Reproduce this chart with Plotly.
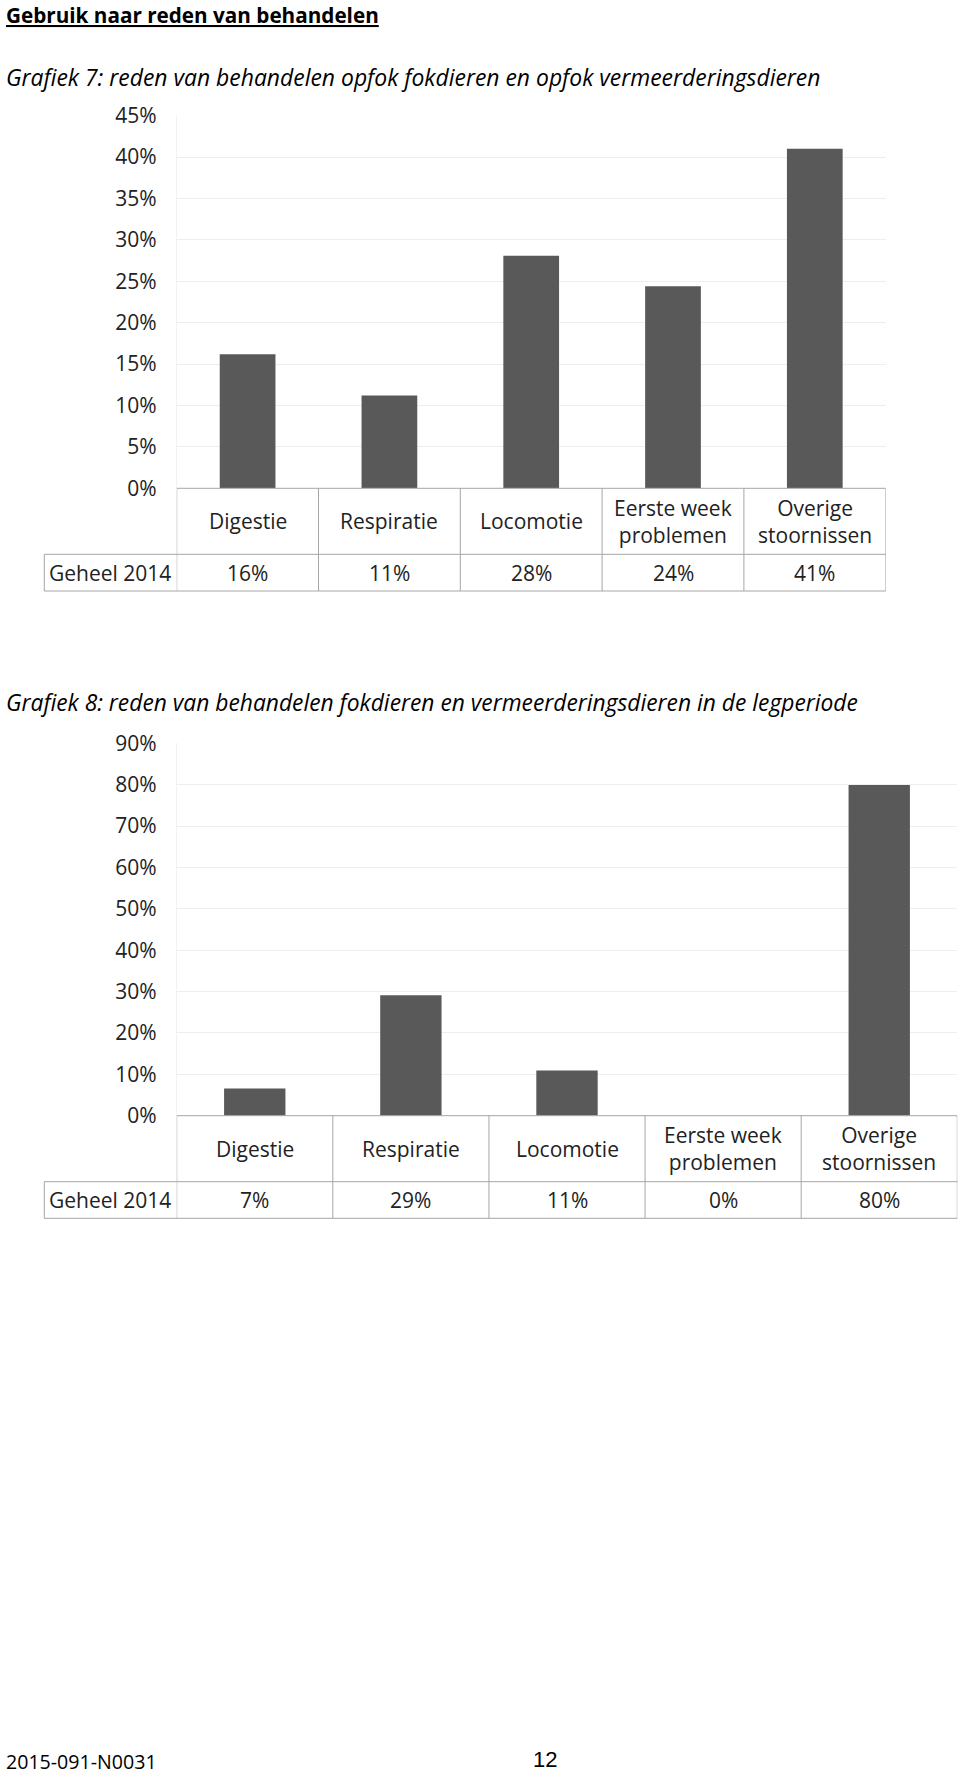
import plotly.graph_objects as go

# ---------------- data ----------------
categories = ["Digestie", "Respiratie", "Locomotie", "Eerste week<br>problemen", "Overige<br>stoornissen"]
values_7 = [0.162, 0.112, 0.281, 0.244, 0.410]
values_8 = [0.066, 0.291, 0.109, 0.0, 0.799]
row_label = "Geheel 2014"
ticks_7 = [0, 0.05, 0.10, 0.15, 0.20, 0.25, 0.30, 0.35, 0.40, 0.45]
ticks_8 = [0, 0.1, 0.2, 0.3, 0.4, 0.5, 0.6, 0.7, 0.8, 0.9]
heading = "Gebruik naar reden van behandelen"
title_7 = "Grafiek 7: reden van behandelen opfok fokdieren en opfok vermeerderingsdieren"
title_8 = "Grafiek 8: reden van behandelen fokdieren en vermeerderingsdieren in de legperiode"
footer_left = "2015-091-N0031"
footer_page = "12"

# ---------------- layout helpers ----------------
W, H = 960, 1774
FONT = "Open Sans"
TEXT = "#222222"
BAR = "#595959"
GRID = "#eeeeee"
TLINE = "#a6a6a6"
FS = 21


def py(px):
    return 1 - px / H


def px_(x):
    return x / W


fig = go.Figure()

charts = [
    dict(vals=values_7, ticks=ticks_7, x0=176.7, x1=885.7, ytop=115.7, ybase=488.3,
         yhead=554.3, ybot=591.0, xa="x", ya="y", xn="xaxis", yn="yaxis"),
    dict(vals=values_8, ticks=ticks_8, x0=176.7, x1=957.3, ytop=743.3, ybase=1115.7,
         yhead=1181.7, ybot=1218.3, xa="x2", ya="y2", xn="xaxis2", yn="yaxis2"),
]

shapes = []
annotations = []
label_left = 44.3

for c in charts:
    fig.add_trace(go.Bar(x=categories, y=c["vals"], marker=dict(color=BAR, line=dict(width=0)),
                         xaxis=c["xa"], yaxis=c["ya"], showlegend=False, hoverinfo="skip"))
    fig.layout[c["xn"]] = dict(domain=[px_(c["x0"]), px_(c["x1"])], type="category",
                               categoryorder="array", categoryarray=categories,
                               range=[-0.5, len(categories) - 0.5], showticklabels=False,
                               showgrid=False, zeroline=False, showline=False, ticks="",
                               anchor=c["ya"], fixedrange=True, automargin=False)
    fig.layout[c["yn"]] = dict(domain=[py(c["ybase"]), py(c["ytop"])], range=[0, c["ticks"][-1]],
                               tickvals=c["ticks"], tickformat=".0%", showgrid=True,
                               gridcolor=GRID, gridwidth=1, zeroline=False, showline=True,
                               linecolor="#f2f2f2", ticks="", ticklabelstandoff=15,
                               tickfont=dict(family=FONT, size=FS, color=TEXT),
                               anchor=c["xa"], fixedrange=True, automargin=False)
    n = len(categories)
    # table horizontal lines
    shapes.append(dict(type="line", xref=c["xa"], yref="paper", x0=-0.5, x1=n - 0.5,
                       y0=py(c["ybase"]), y1=py(c["ybase"]), line=dict(color=TLINE, width=1)))
    for yy in (c["yhead"], c["ybot"]):
        shapes.append(dict(type="line", xref="paper", yref="paper", x0=px_(label_left), x1=px_(c["x1"]),
                           y0=py(yy), y1=py(yy), line=dict(color=TLINE, width=1)))
    # vertical lines
    for i in range(n + 1):
        shapes.append(dict(type="line", xref=c["xa"], yref="paper", x0=i - 0.5, x1=i - 0.5,
                           y0=py(c["ybase"]), y1=py(c["ybot"]), line=dict(color=TLINE, width=1)))
    shapes.append(dict(type="line", xref="paper", yref="paper", x0=px_(label_left), x1=px_(label_left),
                       y0=py(c["yhead"]), y1=py(c["ybot"]), line=dict(color=TLINE, width=1)))
    # header labels and values
    for i, (cat, v) in enumerate(zip(categories, c["vals"])):
        annotations.append(dict(xref=c["xa"], yref="paper", x=i, y=py((c["ybase"] + c["yhead"]) / 2),
                                text=cat, showarrow=False, xanchor="center", yanchor="middle",
                                font=dict(family=FONT, size=FS, color=TEXT)))
        annotations.append(dict(xref=c["xa"], yref="paper", x=i, y=py((c["yhead"] + c["ybot"]) / 2),
                                text=f"{v:.0%}", showarrow=False, xanchor="center", yanchor="middle",
                                font=dict(family=FONT, size=FS, color=TEXT)))
    annotations.append(dict(xref="paper", yref="paper", x=px_(label_left + 3), y=py((c["yhead"] + c["ybot"]) / 2),
                            text=row_label, showarrow=False, xanchor="left", yanchor="middle",
                            font=dict(family=FONT, size=FS, color=TEXT)))

# titles
annotations.append(dict(xref="paper", yref="paper", x=px_(4), y=py(15), text=f"<u><b>{heading}</b></u>",
                        showarrow=False, xanchor="left", yanchor="middle",
                        font=dict(family=FONT, size=20.7, color="#000000")))
annotations.append(dict(xref="paper", yref="paper", x=px_(4), y=py(77), text=f"<i>{title_7}</i>",
                        showarrow=False, xanchor="left", yanchor="middle",
                        font=dict(family=FONT, size=22.9, color="#000000")))
annotations.append(dict(xref="paper", yref="paper", x=px_(4), y=py(702), text=f"<i>{title_8}</i>",
                        showarrow=False, xanchor="left", yanchor="middle",
                        font=dict(family=FONT, size=22.8, color="#000000")))
annotations.append(dict(xref="paper", yref="paper", x=px_(4), y=py(1761), text=footer_left,
                        showarrow=False, xanchor="left", yanchor="middle",
                        font=dict(family=FONT, size=19.6, color="#000000")))
annotations.append(dict(xref="paper", yref="paper", x=px_(531), y=py(1759), text=footer_page,
                        showarrow=False, xanchor="left", yanchor="middle",
                        font=dict(family="Liberation Sans", size=22, color="#000000")))

fig.update_layout(width=W, height=H, margin=dict(l=0, r=0, t=0, b=0, pad=0, autoexpand=False),
                  paper_bgcolor="white", plot_bgcolor="white", bargap=0.607,
                  shapes=shapes, annotations=annotations, showlegend=False)

fig.write_html("out.html", config={"displayModeBar": False},
               post_script="document.body.style.margin='0';")
